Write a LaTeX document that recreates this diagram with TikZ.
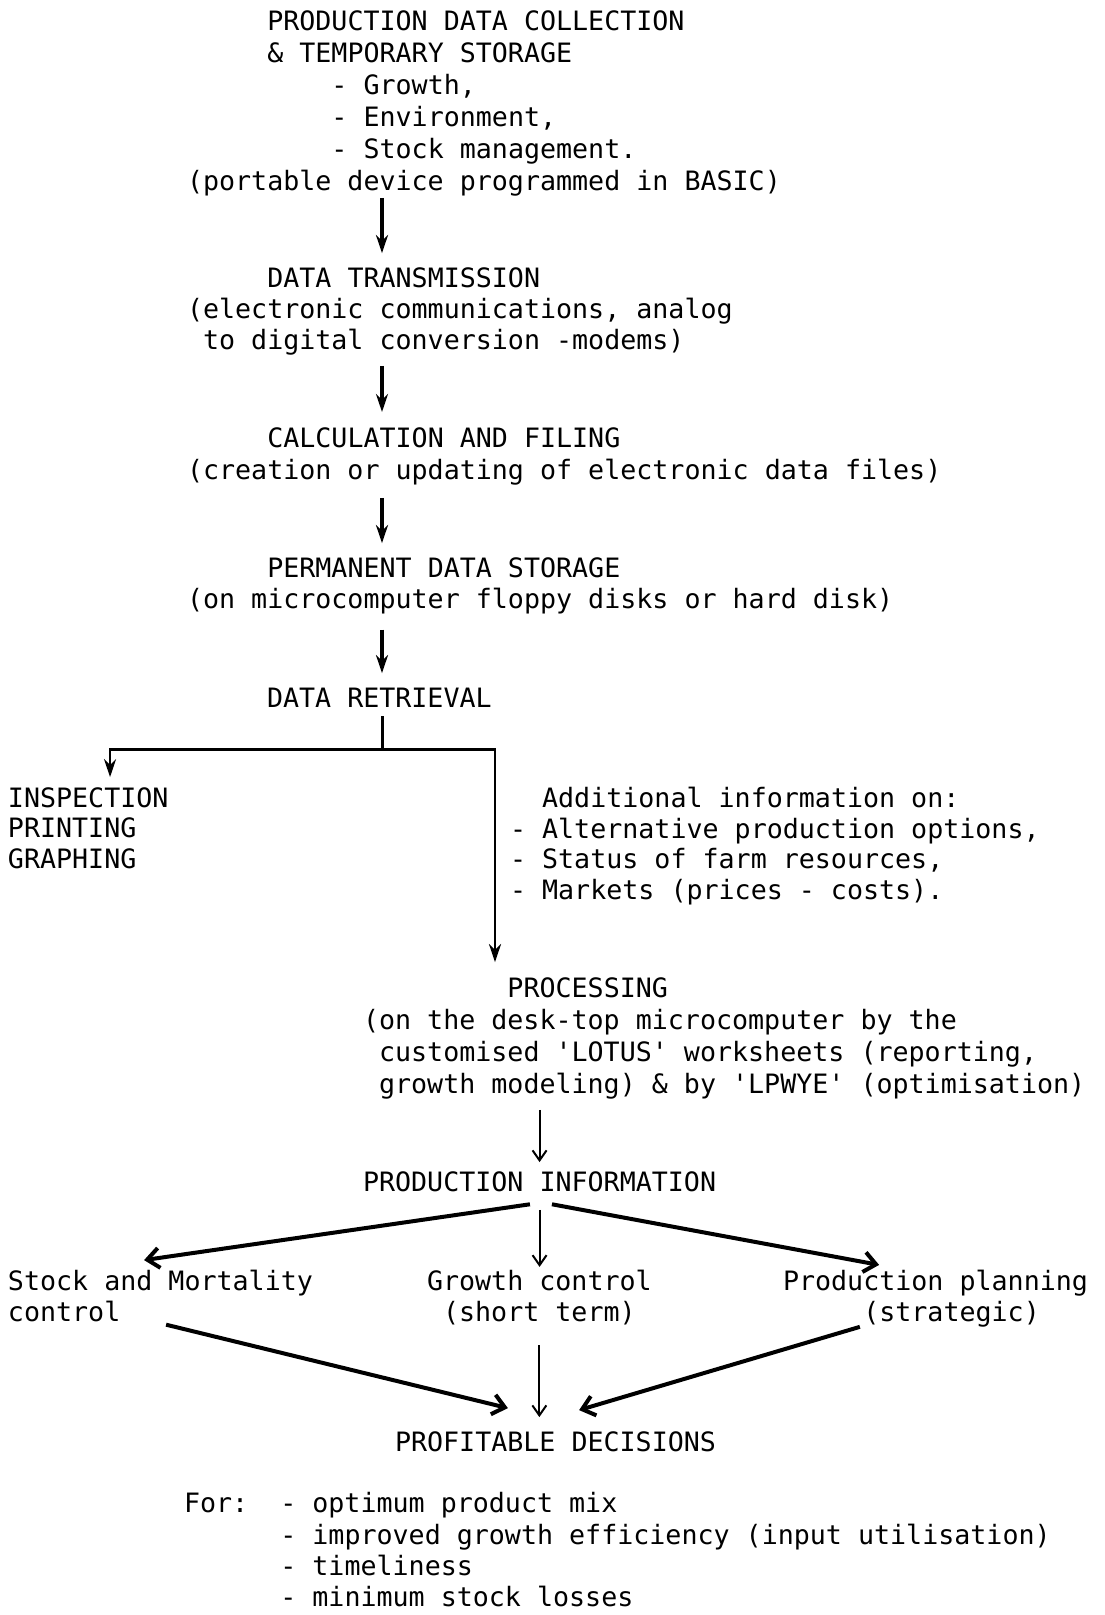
\documentclass[tikz,border=0pt]{standalone}
\usepackage{fontspec}
\setmonofont{DejaVu Sans Mono}
\usetikzlibrary{arrows.meta}
\newcommand\ind[1]{\hspace*{#1\fontcharwd\font`0}}
\newcommand\monofont[1]{\ttfamily\fontsize{13.33}{#1}\selectfont}

\begin{document}
\begin{tikzpicture}[x=0.5pt,y=-0.5pt,
	txt/.style={font=\monofont{16},align=left,inner sep=0pt,outer sep=0pt,anchor=north west},
	arr/.style={line width=1.6pt,-{Stealth[length=9pt,width=6pt]}},
	thinarr/.style={line width=1pt,-{Straight Barb[length=5pt,width=7pt]}},
	diagarr/.style={line width=2pt,-{Straight Barb[length=6pt,width=10pt]}}]
	\useasboundingbox (0,0) rectangle (1104,1615);
	% main chain
	\node[txt] (collect) at (187,10.3) {\ind{5}PRODUCTION DATA COLLECTION\\\ind{5}\& TEMPORARY STORAGE\\\ind{9}- Growth,\\\ind{9}- Environment,\\\ind{9}- Stock management.\\(portable device programmed in BASIC)};
	\node[txt,font=\monofont{15.5}] (transmit) at (187,267.7) {\ind{5}DATA TRANSMISSION\\(electronic communications, analog\\\ind{1}to digital conversion -modems)};
	\node[txt] (calc) at (187,428) {\ind{5}CALCULATION AND FILING\\(creation or updating of electronic data files)};
	\node[txt,font=\monofont{15.75}] (store) at (187,557.7) {\ind{5}PERMANENT DATA STORAGE\\(on microcomputer floppy disks or hard disk)};
	\node[txt] (retrieve) at (267,687.7) {DATA RETRIEVAL};
	\node[txt,font=\monofont{15.25}] (inspect) at (8,787.5) {INSPECTION\\PRINTING\\GRAPHING};
	\node[txt,font=\monofont{15.25}] (addinfo) at (510,787.5) {\ind{2}Additional information on:\\- Alternative production options,\\- Status of farm resources,\\- Markets (prices - costs).};
	\node[txt] (process) at (363,977.7) {\ind{9}PROCESSING\\(on the desk-top microcomputer by the\\\ind{1}customised 'LOTUS' worksheets (reporting,\\\ind{1}growth modeling) \& by 'LPWYE' (optimisation)};
	\node[txt] (info) at (363,1171.7) {PRODUCTION INFORMATION};
	% uses of the information
	\node[txt,font=\monofont{15.5}] (stock) at (8,1269.7) {Stock and Mortality\\control};
	\node[txt,font=\monofont{15.5}] (growth) at (427,1269.7) {Growth control\\\ind{1}(short term)};
	\node[txt,font=\monofont{15.5}] (plan) at (783,1269.7) {Production planning\\\ind{5}(strategic)};
	\node[txt] (profit) at (395,1431.7) {PROFITABLE DECISIONS};
	\node[txt,font=\monofont{15.6}] (forblock) at (184,1492.7) {For:\ind{2}- optimum product mix\\\ind{6}- improved growth efficiency (input utilisation)\\\ind{6}- timeliness\\\ind{6}- minimum stock losses};
	% arrows
	\coordinate (spine) at (382,0);
	\draw[arr,shorten <=1pt,shorten >=7.3pt] (collect.south -| spine) -- (transmit.north -| spine);
	\draw[arr,shorten <=5.3pt,shorten >=8pt] (transmit.south -| spine) -- (calc.north -| spine);
	\draw[arr,shorten <=6.2pt,shorten >=7.3pt] (calc.south -| spine) -- (store.north -| spine);
	\draw[arr,shorten <=7.6pt,shorten >=7.3pt] (store.south -| spine) -- (retrieve.north -| spine);
	\coordinate (split) at ([yshift=-21pt]retrieve.south -| spine);
	\draw[line width=1.5pt,shorten <=4.6pt] (retrieve.south -| spine) -- (split);
	\draw[arr,line width=1.4pt,shorten >=5.2pt] (split) -| ([xshift=10.9pt]inspect.north);
	\draw[arr,line width=1.4pt,shorten >=7.8pt] (split) -| ([xshift=66pt]process.north west);
	\draw[thinarr,shorten <=5.3pt,shorten >=4.8pt] (process.south -| info.north) -- (info.north);
	\draw[diagarr] ([shift={(-4.8pt,-6.2pt)}]info.south) -- ([shift={(-8.2pt,4.8pt)}]stock.north);
	\draw[thinarr,shorten <=9pt,shorten >=1.4pt] (info.south) -- (info.south |- growth.north);
	\draw[diagarr] ([shift={(6.2pt,-6.2pt)}]info.south) -- ([shift={(-28.2pt,2.4pt)}]plan.north);
	\draw[diagarr] ([shift={(2.8pt,-1.6pt)}]stock.south) -- ([shift={(-23.8pt,11.8pt)}]profit.north);
	\draw[thinarr,shorten <=10.4pt,shorten >=7.3pt] (growth.south) -- (growth.south |- profit.north);
	\draw[diagarr] ([xshift=-37.8pt]plan.south) -- ([shift={(11.8pt,10.8pt)}]profit.north);
\end{tikzpicture}
\end{document}
